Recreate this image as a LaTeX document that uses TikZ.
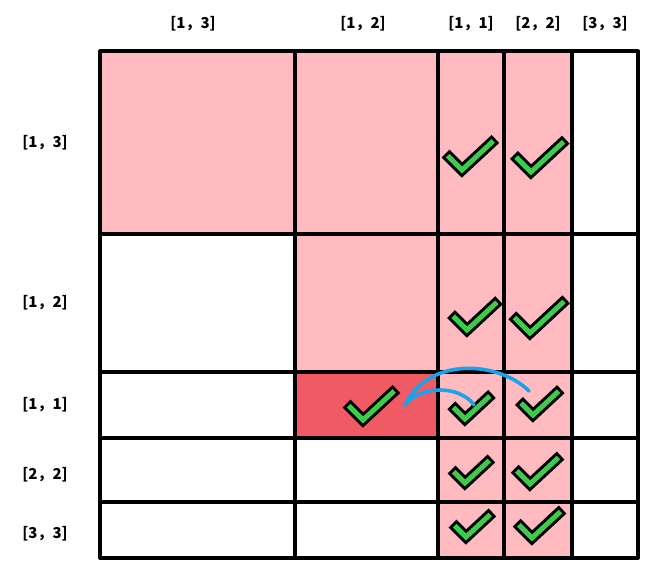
\documentclass[tikz,border=0pt]{standalone}
\usepackage{fontspec}
\newfontfamily\cjk{Noto Sans CJK SC}
\usetikzlibrary{positioning}
\definecolor{cellpink}{HTML}{FFBBBF}
\definecolor{cellred}{HTML}{F05A64}
\definecolor{tickgreen}{HTML}{3DCC4A}
\definecolor{linkblue}{HTML}{1AA3E8}
\tikzset{
  gridline/.style={line width=3.2pt,line cap=round},
  tickout/.style={line width=11pt,line cap=rect,line join=miter,draw=black},
  tickin/.style={line width=5pt,line cap=rect,line join=miter,draw=tickgreen},
  headlabel/.style={font=\cjk\bfseries\fontsize{15}{15}\selectfont,inner sep=0pt},
  linkcurve/.style={line width=3.6pt,draw=linkblue,line cap=round},
}
% tick mark: bottom x, bottom y, scale
\newcommand\drawtick[3]{%
  \draw[tickout] (#1-12*#3,#2-12*#3) -- (#1,#2) -- (#1+28*#3,#2-26*#3);
  \draw[tickin] (#1-12*#3,#2-12*#3) -- (#1,#2) -- (#1+28*#3,#2-26*#3);
}

\begin{document}
\begin{tikzpicture}[x=1pt,y=-1pt]
  \useasboundingbox (0,0) rectangle (659,570);
  % shaded cells
  \fill[cellpink] (100,51) rectangle (572,234);
  \fill[cellpink] (295,234) rectangle (572,372);
  \fill[cellpink] (438,372) rectangle (572,558);
  \fill[cellred] (295,372) rectangle (438,438);
  % grid
  \foreach \x in {100,295,438,504,572,638}
    \draw[gridline] (\x,51) -- (\x,558);
  \foreach \y in {51,234,372,438,502,558}
    \draw[gridline] (100,\y) -- (638,\y);
  % labels
  \foreach \t/\x [count=\n] in {[1，3]/193,[1，2]/363,[1，1]/471,[2，2]/538,[3，3]/605}
    \node[headlabel] (col\n) at (\x,24) {\t};
  \foreach \t/\y [count=\n] in {[1，3]/143,[1，2]/303,[1，1]/405,[2，2]/475,[3，3]/534}
    \node[headlabel] (row\n) at (45,\y) {\t};
  % ticks
  \foreach \bx/\by/\s in {462/170/1.05,531/172/1.1,467/330/1.0,530/333/1.15,
      363/420/1.05,465/419/0.82,533/415/0.85,465/483/0.8,530/484/0.95,
      466/537/0.8,532/538/0.95}
    \drawtick{\bx}{\by}{\s}
  % links back to the red cell
  \coordinate (redtick) at (405,405);
  \coordinate (tick11) at (474,405);
  \coordinate (tick22) at (529,391);
  \draw[linkcurve] (tick11) .. controls (460,385) and (420,385) .. (redtick);
  \draw[linkcurve] (tick22) .. controls (500,362) and (430,355) .. (redtick);
\end{tikzpicture}
\end{document}
